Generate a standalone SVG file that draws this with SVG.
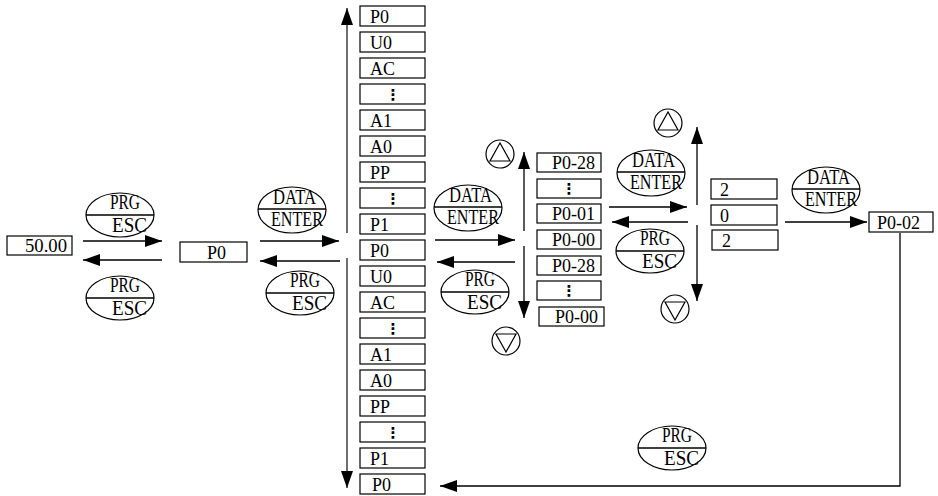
<svg xmlns="http://www.w3.org/2000/svg" width="938" height="496" viewBox="0 0 938 496">
<style>
.bx{fill:#fff;stroke:#000;stroke-width:1.2}
.bt{font-family:"Liberation Serif",serif;font-size:18px;fill:#000}
.dots{font-family:"DejaVu Sans",sans-serif;font-size:15px;font-weight:bold;fill:#000;text-anchor:middle}
.el{fill:#fff;stroke:#000;stroke-width:1.2}
.eln{stroke:#000;stroke-width:1.4}
.et{font-family:"Liberation Serif",serif;font-size:20px;fill:#000}
.ln{fill:none;stroke:#000;stroke-width:1.3}
.lg{fill:none;stroke:#333;stroke-width:1.4}
.ci{fill:#fff;stroke:#000;stroke-width:1.2}
.tri{fill:none;stroke:#000;stroke-width:1.2}
</style>
<defs>
<marker id="ah" markerUnits="userSpaceOnUse" markerWidth="17" markerHeight="12" refX="17" refY="6" orient="auto"><path d="M0,0 L17,6 L0,12 z" fill="#000"/></marker>
<g id="prg"><ellipse class="el" cx="0" cy="0" rx="34" ry="22"/><line class="eln" x1="-34" y1="0" x2="34" y2="0"/><text class="et" x="-10" y="-6" textLength="30" lengthAdjust="spacingAndGlyphs">PRG</text><text class="et" x="-8" y="17" textLength="35" lengthAdjust="spacingAndGlyphs">ESC</text></g>
<g id="data"><ellipse class="el" cx="0" cy="0" rx="34" ry="23"/><line class="eln" x1="-34" y1="-1" x2="34" y2="-1"/><text class="et" x="-19" y="-6" textLength="43" lengthAdjust="spacingAndGlyphs">DATA</text><text class="et" x="-21" y="16" textLength="52" lengthAdjust="spacingAndGlyphs">ENTER</text></g>
<g id="up"><circle class="ci" cx="0" cy="0" r="14"/><path class="tri" d="M0,-11 L-10,7 L10,7 z"/></g>
<g id="dn"><circle class="ci" cx="0" cy="0" r="14"/><path class="tri" d="M0,11 L-10,-7 L10,-7 z"/></g>
</defs>

<g id="connectors">
<line class="ln" x1="83" y1="241" x2="162" y2="241" marker-end="url(#ah)"/>
<line class="ln" x1="162" y1="260" x2="83" y2="260" marker-end="url(#ah)"/>
<line class="ln" x1="260" y1="241" x2="339" y2="241" marker-end="url(#ah)"/>
<line class="ln" x1="340" y1="261" x2="260" y2="261" marker-end="url(#ah)"/>
<line class="lg" x1="347" y1="233" x2="347" y2="8" marker-end="url(#ah)"/>
<line class="lg" x1="347" y1="258" x2="347" y2="488" marker-end="url(#ah)"/>
<line class="ln" x1="435" y1="240" x2="515" y2="240" marker-end="url(#ah)"/>
<line class="ln" x1="515" y1="262" x2="437" y2="262" marker-end="url(#ah)"/>
<line class="ln" x1="524" y1="231" x2="524" y2="152" marker-end="url(#ah)"/>
<line class="ln" x1="524" y1="246" x2="524" y2="318" marker-end="url(#ah)"/>
<line class="ln" x1="609" y1="207" x2="687" y2="207" marker-end="url(#ah)"/>
<line class="ln" x1="688" y1="222" x2="612" y2="222" marker-end="url(#ah)"/>
<line class="ln" x1="697" y1="205" x2="697" y2="127" marker-end="url(#ah)"/>
<line class="ln" x1="697" y1="225" x2="697" y2="301" marker-end="url(#ah)"/>
<line class="ln" x1="785" y1="222" x2="867" y2="222" marker-end="url(#ah)"/>
<polyline class="ln" points="900,233 900,486 440,486" marker-end="url(#ah)"/>
</g>

<g id="n-5000"><rect class="bx" x="7" y="236" width="65" height="19"/><text class="bt" x="25" y="252" textLength="42" lengthAdjust="spacingAndGlyphs">50.00</text></g>
<g id="n-p0"><rect class="bx" x="180" y="242" width="67" height="20"/><text class="bt" x="207" y="259">P0</text></g>

<g id="col1">
<g id="c1-0"><rect class="bx" x="360" y="6" width="65" height="20"/><text class="bt" x="370" y="23">P0</text></g>
<g id="c1-1"><rect class="bx" x="360" y="32" width="65" height="20"/><text class="bt" x="370" y="49">U0</text></g>
<g id="c1-2"><rect class="bx" x="360" y="58" width="65" height="20"/><text class="bt" x="370" y="75">AC</text></g>
<g id="c1-3"><rect class="bx" x="360" y="84" width="65" height="20"/><text class="dots" x="393" y="100">⋮</text></g>
<g id="c1-4"><rect class="bx" x="360" y="110" width="65" height="20"/><text class="bt" x="370" y="127">A1</text></g>
<g id="c1-5"><rect class="bx" x="360" y="136" width="65" height="20"/><text class="bt" x="370" y="153">A0</text></g>
<g id="c1-6"><rect class="bx" x="360" y="162" width="65" height="20"/><text class="bt" x="370" y="179">PP</text></g>
<g id="c1-7"><rect class="bx" x="360" y="188" width="65" height="20"/><text class="dots" x="393" y="204">⋮</text></g>
<g id="c1-8"><rect class="bx" x="360" y="214" width="65" height="20"/><text class="bt" x="370" y="231">P1</text></g>
<g id="c1-9"><rect class="bx" x="360" y="240" width="65" height="20"/><text class="bt" x="370" y="257">P0</text></g>
<g id="c1-10"><rect class="bx" x="360" y="266" width="65" height="20"/><text class="bt" x="370" y="283">U0</text></g>
<g id="c1-11"><rect class="bx" x="360" y="292" width="65" height="20"/><text class="bt" x="370" y="309">AC</text></g>
<g id="c1-12"><rect class="bx" x="360" y="318" width="65" height="20"/><text class="dots" x="393" y="334">⋮</text></g>
<g id="c1-13"><rect class="bx" x="360" y="344" width="65" height="20"/><text class="bt" x="370" y="361">A1</text></g>
<g id="c1-14"><rect class="bx" x="360" y="370" width="65" height="20"/><text class="bt" x="370" y="387">A0</text></g>
<g id="c1-15"><rect class="bx" x="360" y="396" width="65" height="20"/><text class="bt" x="370" y="413">PP</text></g>
<g id="c1-16"><rect class="bx" x="360" y="422" width="65" height="20"/><text class="dots" x="393" y="438">⋮</text></g>
<g id="c1-17"><rect class="bx" x="360" y="448" width="65" height="20"/><text class="bt" x="370" y="465">P1</text></g>
<g id="c1-18"><rect class="bx" x="360" y="474" width="65" height="20"/><text class="bt" x="372" y="491">P0</text></g>
</g>

<g id="col2">
<g id="c2-0"><rect class="bx" x="537" y="153" width="64" height="19"/><text class="bt" x="552" y="169">P0-28</text></g>
<g id="c2-1"><rect class="bx" x="537" y="179" width="64" height="19"/><text class="dots" x="569" y="194">⋮</text></g>
<g id="c2-2"><rect class="bx" x="537" y="204" width="64" height="19"/><text class="bt" x="552" y="220">P0-01</text></g>
<g id="c2-3"><rect class="bx" x="537" y="230" width="64" height="19"/><text class="bt" x="552" y="246">P0-00</text></g>
<g id="c2-4"><rect class="bx" x="537" y="256" width="64" height="19"/><text class="bt" x="552" y="272">P0-28</text></g>
<g id="c2-5"><rect class="bx" x="537" y="281" width="64" height="19"/><text class="dots" x="569" y="296">⋮</text></g>
<g id="c2-6"><rect class="bx" x="539" y="307" width="65" height="19"/><text class="bt" x="555" y="323">P0-00</text></g>
</g>

<g id="col3">
<g id="c3-0"><rect class="bx" x="711" y="179" width="66" height="20"/><text class="bt" x="720" y="196">2</text></g>
<g id="c3-1"><rect class="bx" x="711" y="205" width="66" height="20"/><text class="bt" x="720" y="222">0</text></g>
<g id="c3-2"><rect class="bx" x="712" y="230" width="66" height="20"/><text class="bt" x="722" y="247">2</text></g>
</g>

<g id="n-p002"><rect class="bx" x="869" y="212" width="64" height="20"/><text class="bt" x="877" y="229">P0-02</text></g>

<g id="k1"><use href="#prg" x="120" y="215"/></g>
<g id="k2"><use href="#prg" x="120" y="298"/></g>
<g id="k3"><use href="#data" x="292" y="210"/></g>
<g id="k4"><use href="#prg" x="300" y="293"/></g>
<g id="k5"><use href="#data" x="468" y="208"/></g>
<g id="k6"><use href="#prg" x="475" y="292"/></g>
<g id="k7"><use href="#data" x="651" y="173"/></g>
<g id="k8"><use href="#prg" x="650" y="251"/></g>
<g id="k9"><use href="#data" x="826" y="190"/></g>
<g id="k10"><use href="#prg" x="672" y="448"/></g>

<g id="u1"><use href="#up" x="500" y="154"/></g>
<g id="d1"><use href="#dn" x="506" y="341"/></g>
<g id="u2"><use href="#up" x="668" y="123"/></g>
<g id="d2"><use href="#dn" x="675" y="309"/></g>
</svg>
